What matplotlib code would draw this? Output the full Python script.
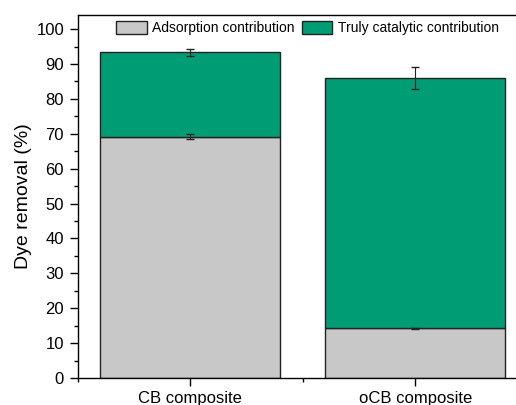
import matplotlib.pyplot as plt
from matplotlib.ticker import MultipleLocator

plt.rcParams['font.family'] = ['Liberation Sans', 'DejaVu Sans']

# values
samples = ['CB composite', 'oCB composite']
adsorption = [69.2, 14.3]
adsorption_err = [0.7, 0.15]
total = [93.3, 86.0]
total_err = [1.05, 3.2]
catalytic = [t - a for t, a in zip(total, adsorption)]

fig = plt.figure(figsize=(5.16, 4.05), dpi=100)
ax = fig.add_axes([0.151, 0.0667, 0.872, 0.896])

x = [1, 2]
ax.bar(x, adsorption, width=0.8, color='#C8C8C8', edgecolor='#222222', linewidth=1.0,
       label='Adsorption contribution')
ax.bar(x, catalytic, width=0.8, bottom=adsorption, color='#009C73', edgecolor='#222222',
       linewidth=1.0, label='Truly catalytic contribution')
ax.errorbar(x, adsorption, yerr=adsorption_err, fmt='none', ecolor='#222222', elinewidth=0.8, capsize=3)
ax.errorbar(x, total, yerr=total_err, fmt='none', ecolor='#222222', elinewidth=0.8, capsize=3)

ax.set_xlim(0.5, 2.5)
ax.set_ylim(0, 104)
ax.set_xticks(x)
ax.set_xticklabels(samples, fontsize=12)
ax.xaxis.set_minor_locator(MultipleLocator(0.5))
ax.yaxis.set_major_locator(MultipleLocator(10))
ax.yaxis.set_minor_locator(MultipleLocator(5))
ax.tick_params(axis='both', which='major', direction='out', length=5.5, labelsize=12, width=1)
ax.tick_params(axis='both', which='minor', direction='out', length=3, width=1)
ax.tick_params(axis='y', which='major', pad=4.5)
ax.tick_params(axis='x', which='major', pad=4)
ax.set_ylabel('Dye removal (%)', fontsize=14, labelpad=3)
for s in ax.spines.values():
    s.set_linewidth(1.0)

ax.legend(loc='upper left', bbox_to_anchor=(0.225, 0.948), bbox_transform=fig.transFigure,
          ncol=2, frameon=False, fontsize=10, handlelength=2.2, handleheight=1.1,
          handletextpad=0.4, columnspacing=0.5, borderpad=0, borderaxespad=0)

fig.savefig('out.png', dpi=100)
